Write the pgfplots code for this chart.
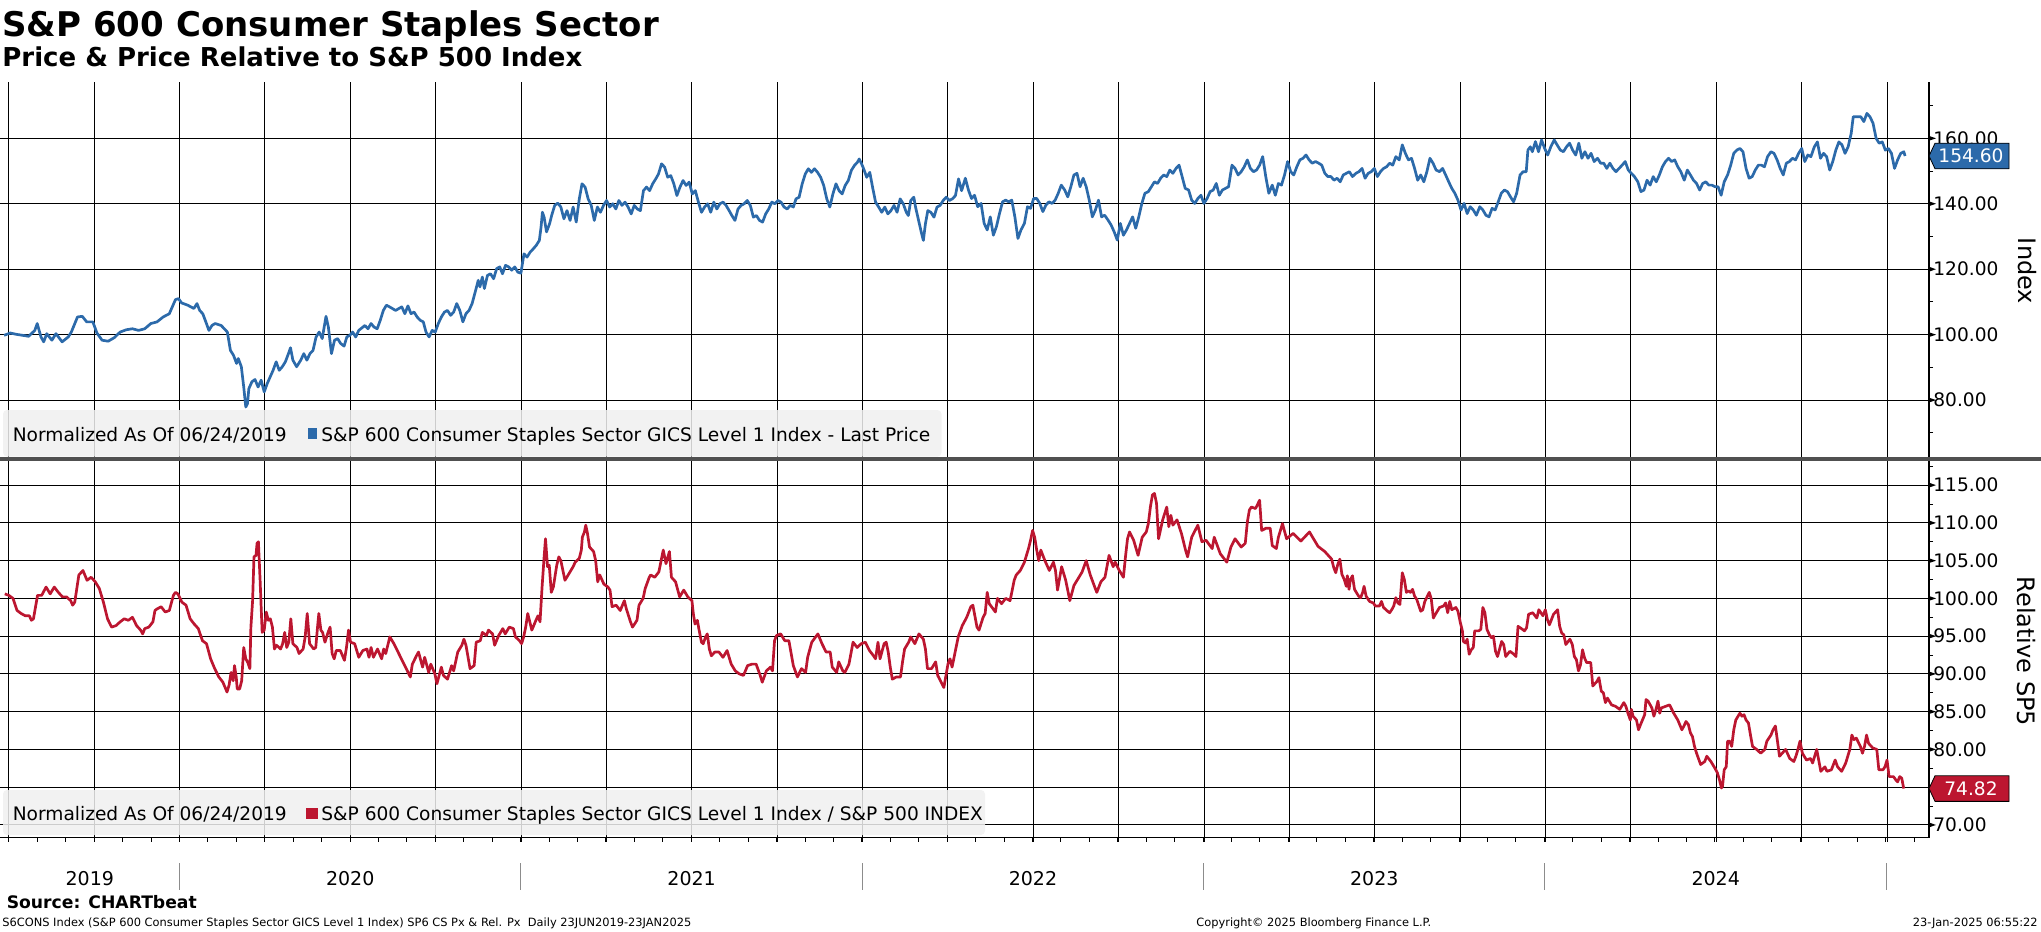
\documentclass[border=0pt]{standalone}
\usepackage{fontspec}
\setmainfont{DejaVu Sans}
\usepackage{pgfplots}
\pgfplotsset{compat=1.18}

\definecolor{serBlue}{RGB}{44,106,170}
\definecolor{serRed}{RGB}{188,22,48}
\definecolor{legbg}{RGB}{240,240,240}
\definecolor{sepgray}{RGB}{80,80,80}

\newcommand\ticfont{\fontsize{9.3bp}{11bp}\selectfont}
\newcommand\legfont{\fontsize{9.3bp}{11bp}\selectfont}

\pgfplotsset{
  panel/.style={
    scale only axis, width=964.5bp,
    xmin=2019.474, xmax=2025.125,
    axis y line*=right, axis x line*=bottom,
    xtick={2019.5,2019.75,...,2025}, xticklabels={},
    grid=major, major grid style={black, line width=0.5bp},
    tick align=outside, major tick length=2bp, minor tick length=2bp,
    tick style={black, line width=0.5bp},
    major y tick style={draw=none},
    y axis line style={black, line width=0.6bp},
    yticklabel style={font=\ticfont, anchor=west, inner sep=0pt},
    clip=false,
  },
}

\begin{document}
\begin{tikzpicture}
\useasboundingbox (0,0) rectangle (1020.5bp,-466bp);

% ---------- upper panel: price ----------
\begin{axis}[panel,
  at={(0bp,-40.85bp)}, anchor=north west, height=188.65bp,
  ymin=62.0, ymax=177.3,
  ytick={80,100,120,140,160},
  yticklabels={80.00,100.00,120.00,140.00,160.00},
  minor ytick={70,90,110,130,150,170},
  x axis line style={draw=none},
  major x tick style={draw=none},
]
\addplot[serBlue, line width=1.35bp, line join=round] coordinates {
(2019.486,99.8)(2019.504,100.5)(2019.522,100.1)(2019.540,99.8)(2019.558,99.5)
(2019.576,101.3)(2019.583,103.4)(2019.594,99.3)(2019.602,97.8)(2019.611,100.3)
(2019.626,98.3)(2019.638,100.3)(2019.656,97.8)(2019.674,99.3)(2019.683,100.8)
(2019.701,105.4)(2019.715,105.6)(2019.728,103.9)(2019.746,103.9)(2019.758,100.5)
(2019.773,98.3)(2019.791,98.0)(2019.809,99.1)(2019.826,100.8)(2019.844,101.5)
(2019.862,101.8)(2019.880,101.3)(2019.898,101.8)(2019.916,103.4)(2019.934,103.9)
(2019.952,105.4)(2019.970,106.4)(2019.988,110.7)(2019.997,111.0)(2020.006,109.7)
(2020.024,109.0)(2020.042,108.0)(2020.051,109.5)(2020.059,107.4)(2020.068,106.4)
(2020.077,103.9)(2020.086,101.3)(2020.095,102.8)(2020.104,103.4)(2020.122,102.8)
(2020.140,100.8)(2020.149,95.2)(2020.158,93.7)(2020.167,91.2)(2020.172,92.7)
(2020.181,90.2)(2020.188,84.0)(2020.194,77.9)(2020.199,78.9)(2020.203,83.5)
(2020.212,85.6)(2020.221,86.3)(2020.230,84.0)(2020.239,86.1)(2020.248,82.5)
(2020.257,85.1)(2020.274,89.1)(2020.283,91.7)(2020.292,89.1)(2020.301,90.2)
(2020.310,91.7)(2020.319,94.2)(2020.325,96.0)(2020.332,92.2)(2020.343,90.2)
(2020.355,92.2)(2020.364,94.2)(2020.373,92.2)(2020.382,94.2)(2020.391,95.2)
(2020.400,99.3)(2020.409,100.8)(2020.418,98.8)(2020.429,105.6)(2020.436,102.3)
(2020.445,94.2)(2020.454,98.3)(2020.463,98.8)(2020.472,97.3)(2020.482,96.5)
(2020.490,99.3)(2020.499,99.8)(2020.507,100.8)(2020.516,99.3)(2020.525,101.3)
(2020.543,102.8)(2020.552,101.8)(2020.561,103.4)(2020.570,102.3)(2020.579,101.8)
(2020.588,104.4)(2020.597,107.4)(2020.606,109.0)(2020.615,108.5)(2020.633,107.4)
(2020.651,108.5)(2020.660,106.4)(2020.669,108.8)(2020.678,106.4)(2020.687,106.9)
(2020.696,105.4)(2020.705,104.4)(2020.714,103.9)(2020.722,100.8)(2020.731,99.3)
(2020.740,101.3)(2020.749,100.8)(2020.758,103.4)(2020.767,105.4)(2020.776,106.9)
(2020.785,107.4)(2020.794,105.9)(2020.803,106.9)(2020.812,109.5)(2020.821,107.4)
(2020.830,103.9)(2020.839,106.4)(2020.848,107.4)(2020.857,109.5)(2020.866,113.0)
(2020.875,116.6)(2020.880,114.6)(2020.887,117.6)(2020.893,114.1)(2020.902,118.1)
(2020.911,118.6)(2020.920,117.1)(2020.929,120.2)(2020.938,120.7)(2020.946,118.6)
(2020.955,121.2)(2020.964,120.7)(2020.973,119.7)(2020.982,120.7)(2020.991,119.1)
(2021.000,118.8)(2021.009,124.7)(2021.018,123.7)(2021.027,125.2)(2021.036,126.2)
(2021.045,127.3)(2021.054,128.8)(2021.059,132.9)(2021.063,137.4)(2021.068,135.9)
(2021.075,131.4)(2021.084,133.9)(2021.090,136.4)(2021.099,139.5)(2021.108,140.2)
(2021.117,139.0)(2021.126,135.4)(2021.135,137.9)(2021.144,134.9)(2021.153,139.0)
(2021.162,134.4)(2021.171,141.5)(2021.179,146.1)(2021.188,145.1)(2021.197,141.5)
(2021.206,139.5)(2021.215,134.9)(2021.224,139.0)(2021.233,137.4)(2021.242,139.5)
(2021.251,141.0)(2021.260,139.0)(2021.269,140.0)(2021.278,138.4)(2021.287,141.0)
(2021.296,139.5)(2021.305,140.5)(2021.314,139.0)(2021.323,136.9)(2021.332,139.5)
(2021.341,138.4)(2021.350,137.9)(2021.359,144.0)(2021.368,145.1)(2021.377,144.0)
(2021.386,146.1)(2021.395,147.6)(2021.403,149.1)(2021.412,152.2)(2021.421,151.2)
(2021.430,148.1)(2021.439,148.6)(2021.448,146.1)(2021.457,142.5)(2021.466,145.1)
(2021.475,147.1)(2021.484,145.6)(2021.493,146.6)(2021.502,143.0)(2021.511,144.0)
(2021.520,140.5)(2021.529,137.4)(2021.538,139.0)(2021.547,140.0)(2021.556,137.4)
(2021.565,140.5)(2021.574,138.4)(2021.583,140.0)(2021.592,140.5)(2021.601,139.5)
(2021.610,137.9)(2021.618,136.4)(2021.627,134.9)(2021.636,138.4)(2021.645,139.5)
(2021.654,140.0)(2021.663,141.0)(2021.672,139.5)(2021.681,135.9)(2021.690,136.4)
(2021.699,134.9)(2021.708,134.4)(2021.717,136.9)(2021.726,138.4)(2021.735,140.5)
(2021.744,140.0)(2021.753,141.0)(2021.762,140.5)(2021.771,139.0)(2021.780,138.4)
(2021.789,139.5)(2021.798,139.0)(2021.806,141.5)(2021.815,142.0)(2021.824,146.1)
(2021.833,149.1)(2021.842,150.7)(2021.851,149.6)(2021.860,150.7)(2021.869,149.6)
(2021.878,148.1)(2021.887,145.6)(2021.896,141.5)(2021.905,139.0)(2021.914,143.0)
(2021.923,146.1)(2021.932,144.0)(2021.941,143.0)(2021.950,145.6)(2021.959,147.1)
(2021.968,150.2)(2021.977,151.7)(2021.986,152.7)(2021.991,153.7)(2021.998,152.2)
(2022.004,150.7)(2022.013,148.1)(2022.022,149.6)(2022.031,144.6)(2022.039,140.5)
(2022.048,139.0)(2022.057,137.4)(2022.066,139.0)(2022.075,136.9)(2022.084,137.9)
(2022.093,139.5)(2022.102,137.4)(2022.111,141.5)(2022.120,140.0)(2022.129,137.4)
(2022.135,136.4)(2022.142,141.0)(2022.151,142.0)(2022.156,139.0)(2022.165,134.9)
(2022.174,130.8)(2022.179,128.8)(2022.185,133.9)(2022.192,137.9)(2022.201,137.4)
(2022.210,135.9)(2022.219,139.0)(2022.228,139.5)(2022.237,141.0)(2022.246,142.0)
(2022.255,141.0)(2022.264,141.5)(2022.273,142.5)(2022.282,147.6)(2022.291,144.0)
(2022.302,147.8)(2022.311,144.2)(2022.320,141.6)(2022.329,142.6)(2022.338,139.1)
(2022.348,140.1)(2022.357,134.0)(2022.366,132.0)(2022.375,136.0)(2022.384,130.4)
(2022.393,133.0)(2022.402,137.0)(2022.411,140.6)(2022.420,141.1)(2022.429,140.6)
(2022.438,141.1)(2022.447,136.0)(2022.456,129.4)(2022.465,132.0)(2022.475,134.0)
(2022.484,139.1)(2022.493,138.6)(2022.502,141.6)(2022.511,141.6)(2022.520,140.1)
(2022.529,137.6)(2022.538,139.6)(2022.547,140.6)(2022.556,140.1)(2022.565,141.1)
(2022.574,143.2)(2022.583,145.7)(2022.593,144.2)(2022.602,142.1)(2022.611,145.2)
(2022.620,148.8)(2022.629,149.3)(2022.638,145.2)(2022.647,147.8)(2022.656,145.2)
(2022.665,141.1)(2022.674,136.0)(2022.683,138.1)(2022.692,141.1)(2022.701,136.0)
(2022.710,136.5)(2022.720,135.0)(2022.729,133.5)(2022.738,131.4)(2022.747,128.9)
(2022.756,134.0)(2022.765,130.4)(2022.774,132.0)(2022.783,134.0)(2022.792,136.0)
(2022.801,132.5)(2022.810,136.0)(2022.819,140.1)(2022.828,143.2)(2022.838,143.7)
(2022.847,145.2)(2022.856,146.7)(2022.865,146.2)(2022.874,147.8)(2022.883,148.8)
(2022.892,148.3)(2022.901,150.3)(2022.910,149.3)(2022.919,150.8)(2022.928,151.8)
(2022.937,148.3)(2022.946,144.7)(2022.956,144.2)(2022.965,141.1)(2022.974,140.1)
(2022.983,141.6)(2022.992,142.6)(2023.001,140.1)(2023.010,141.6)(2023.019,143.7)
(2023.028,144.2)(2023.037,146.2)(2023.046,142.6)(2023.055,144.2)(2023.064,144.7)
(2023.073,145.2)(2023.083,151.8)(2023.092,150.8)(2023.101,148.8)(2023.110,149.8)
(2023.119,151.3)(2023.128,153.4)(2023.137,150.8)(2023.146,149.8)(2023.155,150.3)
(2023.164,151.8)(2023.173,154.4)(2023.182,148.3)(2023.191,143.2)(2023.201,145.7)
(2023.210,142.6)(2023.219,146.2)(2023.228,145.7)(2023.237,148.8)(2023.246,152.9)
(2023.255,149.8)(2023.264,148.8)(2023.273,151.3)(2023.282,153.4)(2023.291,153.9)
(2023.300,154.9)(2023.309,153.4)(2023.318,152.4)(2023.328,152.9)(2023.337,152.4)
(2023.346,151.8)(2023.355,149.3)(2023.364,148.3)(2023.373,148.3)(2023.382,147.2)
(2023.391,147.8)(2023.400,146.7)(2023.409,148.8)(2023.418,149.3)(2023.427,149.8)
(2023.436,148.3)(2023.446,149.3)(2023.455,149.8)(2023.464,150.8)(2023.473,147.8)
(2023.482,149.3)(2023.491,149.8)(2023.500,150.8)(2023.509,148.3)(2023.518,149.8)
(2023.527,150.8)(2023.536,151.3)(2023.545,152.4)(2023.554,151.8)(2023.563,154.4)
(2023.573,153.4)(2023.582,158.0)(2023.591,155.4)(2023.600,153.4)(2023.609,153.9)
(2023.618,150.8)(2023.627,147.2)(2023.636,148.8)(2023.645,146.7)(2023.654,149.8)
(2023.663,153.9)(2023.672,152.4)(2023.681,150.3)(2023.691,149.8)(2023.700,150.8)
(2023.709,148.8)(2023.718,146.7)(2023.727,144.7)(2023.736,143.2)(2023.745,141.1)
(2023.754,138.1)(2023.763,140.1)(2023.772,137.0)(2023.781,139.1)(2023.790,138.1)
(2023.799,136.5)(2023.809,139.1)(2023.818,138.1)(2023.827,136.5)(2023.836,136.0)
(2023.845,138.6)(2023.854,138.1)(2023.863,140.6)(2023.872,143.2)(2023.881,144.2)
(2023.890,143.7)(2023.899,142.1)(2023.908,140.6)(2023.917,143.2)(2023.927,148.8)
(2023.936,149.8)(2023.945,149.8)(2023.950,156.4)(2023.957,157.4)(2023.963,155.9)
(2023.972,159.0)(2023.981,155.9)(2023.990,159.5)(2023.999,156.9)(2024.008,154.9)
(2024.017,157.4)(2024.027,159.5)(2024.036,157.9)(2024.045,156.4)(2024.054,155.9)
(2024.063,157.4)(2024.072,158.5)(2024.081,156.4)(2024.090,154.9)(2024.099,158.5)
(2024.108,153.9)(2024.117,155.9)(2024.126,153.9)(2024.135,155.4)(2024.144,152.9)
(2024.154,153.9)(2024.163,152.4)(2024.172,152.4)(2024.181,150.8)(2024.190,152.4)
(2024.199,150.8)(2024.208,149.8)(2024.217,150.8)(2024.226,151.8)(2024.235,152.9)
(2024.244,150.3)(2024.253,149.3)(2024.262,148.3)(2024.272,146.7)(2024.281,143.7)
(2024.290,144.2)(2024.299,147.2)(2024.308,145.7)(2024.317,148.3)(2024.326,146.7)
(2024.335,148.8)(2024.344,151.3)(2024.353,152.9)(2024.362,153.9)(2024.371,152.9)
(2024.380,153.4)(2024.389,151.3)(2024.398,149.8)(2024.408,147.2)(2024.417,150.3)
(2024.426,148.8)(2024.435,147.2)(2024.444,146.2)(2024.453,144.2)(2024.462,146.2)
(2024.471,146.7)(2024.480,145.7)(2024.489,145.7)(2024.498,145.2)(2024.507,145.2)
(2024.516,142.6)(2024.525,146.7)(2024.535,148.8)(2024.544,151.8)(2024.553,155.4)
(2024.562,156.4)(2024.571,156.9)(2024.580,155.9)(2024.589,150.8)(2024.598,147.8)
(2024.607,148.3)(2024.616,150.3)(2024.625,151.8)(2024.634,151.8)(2024.643,151.3)
(2024.652,154.4)(2024.662,155.9)(2024.671,155.4)(2024.680,153.4)(2024.689,150.8)
(2024.698,148.8)(2024.707,152.4)(2024.716,152.9)(2024.725,153.9)(2024.734,153.4)
(2024.743,155.4)(2024.752,156.9)(2024.761,152.9)(2024.770,154.9)(2024.779,154.4)
(2024.789,157.4)(2024.798,158.9)(2024.807,153.9)(2024.816,155.4)(2024.825,154.4)
(2024.834,150.3)(2024.843,152.9)(2024.852,156.4)(2024.861,158.9)(2024.870,158.0)
(2024.879,155.4)(2024.888,157.4)(2024.897,161.5)(2024.903,166.6)(2024.916,166.6)
(2024.925,166.6)(2024.934,165.1)(2024.943,167.6)(2024.952,166.6)(2024.961,164.6)
(2024.970,160.0)(2024.979,158.5)(2024.988,158.9)(2024.997,156.4)(2025.006,156.9)
(2025.015,155.4)(2025.024,150.8)(2025.033,153.4)(2025.042,155.4)(2025.051,155.9)
(2025.055,154.6)
};
\coordinate (tagU) at (axis cs:2025.125,154.6);
\pgfplotsinvokeforeach{80,100,120,140,160}{
  \fill[black] ([yshift=1.2bp]axis cs:2025.125,#1) -- ++(3.5bp,-1.2bp) -- ++(-3.5bp,-1.2bp) -- cycle;
}
\end{axis}

% ---------- lower panel: relative ----------
\begin{axis}[panel,
  at={(0bp,-229.5bp)}, anchor=north west, height=189.35bp,
  ymin=68.31, ymax=118.46,
  ytick={70,75,...,115},
  yticklabels={70.00,{},80.00,85.00,90.00,95.00,100.00,105.00,110.00,115.00},
  minor ytick={72.5,77.5,...,117.5},
  minor xtick={2019.5,2019.58333,...,2025.1},
  x axis line style={black, line width=0.6bp},
]
\addplot[serRed, line width=1.35bp, line join=round] coordinates {
(2019.488,100.6)(2019.500,100.4)(2019.512,100.0)(2019.524,98.4)(2019.536,98.0)
(2019.548,97.7)(2019.560,97.7)(2019.566,97.1)(2019.572,97.3)(2019.584,100.4)
(2019.596,100.4)(2019.609,101.5)(2019.621,100.6)(2019.633,101.5)(2019.645,100.8)
(2019.657,100.2)(2019.669,100.2)(2019.681,99.7)(2019.687,99.1)(2019.693,99.5)
(2019.705,103.1)(2019.717,103.7)(2019.729,102.4)(2019.741,102.8)(2019.753,102.2)
(2019.765,101.3)(2019.777,99.5)(2019.789,97.3)(2019.801,96.2)(2019.814,96.4)
(2019.826,96.9)(2019.838,97.3)(2019.850,97.1)(2019.862,97.5)(2019.874,96.4)
(2019.886,95.8)(2019.892,95.3)(2019.898,96.0)(2019.910,96.2)(2019.922,96.9)
(2019.928,98.4)(2019.934,98.6)(2019.946,98.9)(2019.958,98.2)(2019.970,98.4)
(2019.982,100.4)(2019.988,100.8)(2019.995,100.6)(2020.007,99.5)(2020.019,99.1)
(2020.031,97.3)(2020.043,96.6)(2020.055,96.0)(2020.067,94.4)(2020.079,94.0)
(2020.091,92.0)(2020.103,90.7)(2020.115,89.6)(2020.127,88.9)(2020.139,87.6)
(2020.145,88.5)(2020.151,90.2)(2020.157,89.1)(2020.161,91.1)(2020.166,89.6)
(2020.169,88.0)(2020.176,88.0)(2020.182,89.1)(2020.188,93.5)(2020.194,92.0)
(2020.200,91.5)(2020.206,90.7)(2020.209,96.2)(2020.214,99.7)(2020.218,105.5)
(2020.224,105.7)(2020.227,107.3)(2020.231,107.5)(2020.236,102.4)(2020.242,95.5)
(2020.248,95.8)(2020.254,98.2)(2020.260,97.1)(2020.266,97.3)(2020.272,96.2)
(2020.278,93.3)(2020.284,93.8)(2020.296,93.3)(2020.302,94.0)(2020.308,95.5)
(2020.314,93.5)(2020.320,94.2)(2020.326,97.3)(2020.332,94.0)(2020.344,93.5)
(2020.350,92.7)(2020.362,93.3)(2020.368,94.9)(2020.374,98.0)(2020.381,94.0)
(2020.393,93.3)(2020.399,93.5)(2020.405,96.6)(2020.408,98.0)(2020.414,95.8)
(2020.419,95.5)(2020.426,94.2)(2020.435,95.5)(2020.441,96.2)(2020.447,92.7)
(2020.453,92.0)(2020.459,93.1)(2020.471,93.1)(2020.483,91.8)(2020.489,93.5)
(2020.495,95.8)(2020.501,94.2)(2020.513,94.0)(2020.525,92.2)(2020.537,93.1)
(2020.549,93.3)(2020.555,92.2)(2020.561,93.5)(2020.568,92.2)(2020.580,93.3)
(2020.592,92.0)(2020.598,93.3)(2020.604,92.7)(2020.616,94.9)(2020.628,94.0)
(2020.640,92.9)(2020.652,91.8)(2020.664,90.7)(2020.676,89.6)(2020.682,91.3)
(2020.694,92.4)(2020.700,92.9)(2020.712,90.9)(2020.718,92.2)(2020.730,90.2)
(2020.736,91.3)(2020.748,90.0)(2020.754,88.7)(2020.767,90.9)(2020.773,89.8)
(2020.785,89.3)(2020.797,91.1)(2020.803,90.4)(2020.815,92.9)(2020.827,93.8)
(2020.833,94.6)(2020.839,93.8)(2020.851,90.7)(2020.863,91.1)(2020.869,94.2)
(2020.881,94.4)(2020.887,95.5)(2020.899,95.1)(2020.905,95.8)(2020.917,95.3)
(2020.923,93.8)(2020.935,95.1)(2020.947,96.0)(2020.954,95.3)(2020.966,96.2)
(2020.978,96.0)(2020.984,94.9)(2020.996,94.4)(2021.002,94.0)(2021.008,94.9)
(2021.014,96.2)(2021.020,98.0)(2021.032,95.8)(2021.044,97.1)(2021.050,97.7)
(2021.056,96.9)(2021.062,101.5)(2021.068,105.5)(2021.072,107.9)(2021.078,104.2)
(2021.083,104.4)(2021.089,100.8)(2021.095,101.5)(2021.105,104.4)(2021.111,105.5)
(2021.117,105.0)(2021.129,102.4)(2021.141,103.3)(2021.153,104.2)(2021.159,104.8)
(2021.171,105.3)(2021.177,106.4)(2021.180,108.1)(2021.186,108.8)(2021.190,109.7)
(2021.195,108.6)(2021.201,106.8)(2021.213,106.2)(2021.219,105.0)(2021.225,102.2)
(2021.231,103.1)(2021.243,101.9)(2021.255,101.5)(2021.261,101.1)(2021.267,98.9)
(2021.279,99.1)(2021.291,98.4)(2021.303,99.7)(2021.309,98.6)(2021.321,96.9)
(2021.327,96.2)(2021.340,97.1)(2021.346,99.1)(2021.358,100.0)(2021.364,101.3)
(2021.376,102.8)(2021.380,103.1)(2021.392,102.8)(2021.404,103.5)(2021.417,106.4)
(2021.425,104.6)(2021.435,106.2)(2021.441,102.8)(2021.453,102.2)(2021.465,100.2)
(2021.477,101.1)(2021.489,100.2)(2021.501,99.7)(2021.505,98.0)(2021.510,96.6)
(2021.517,97.1)(2021.522,95.8)(2021.529,94.2)(2021.534,94.0)(2021.541,94.9)
(2021.546,95.3)(2021.552,93.3)(2021.558,92.4)(2021.568,92.9)(2021.580,92.9)
(2021.592,92.2)(2021.604,93.1)(2021.616,91.3)(2021.628,90.4)(2021.640,90.0)
(2021.652,89.8)(2021.664,91.1)(2021.677,91.3)(2021.689,91.3)(2021.701,89.8)
(2021.707,88.9)(2021.719,90.4)(2021.731,90.9)(2021.737,90.4)(2021.743,94.4)
(2021.749,95.1)(2021.761,95.3)(2021.773,94.4)(2021.785,94.4)(2021.798,91.1)
(2021.810,89.6)(2021.822,90.7)(2021.834,90.2)(2021.840,92.2)(2021.852,94.2)
(2021.870,95.3)(2021.882,94.0)(2021.894,92.9)(2021.906,92.9)(2021.912,90.9)
(2021.925,90.2)(2021.931,91.6)(2021.943,90.4)(2021.949,90.2)(2021.961,91.3)
(2021.973,94.2)(2021.985,93.5)(2021.997,94.0)(2022.009,94.2)(2022.021,93.1)
(2022.033,92.4)(2022.039,92.0)(2022.046,94.2)(2022.052,92.0)(2022.064,94.0)
(2022.070,94.2)(2022.076,92.9)(2022.082,90.9)(2022.088,89.3)(2022.100,89.6)
(2022.112,89.6)(2022.118,91.6)(2022.124,93.3)(2022.136,94.2)(2022.142,94.9)
(2022.154,94.0)(2022.166,95.3)(2022.179,94.6)(2022.185,93.3)(2022.191,90.7)
(2022.203,90.7)(2022.215,91.6)(2022.221,89.8)(2022.239,88.2)(2022.251,91.3)
(2022.257,92.0)(2022.263,90.9)(2022.269,92.2)(2022.281,94.9)(2022.293,96.4)
(2022.306,97.5)(2022.318,98.9)(2022.324,99.1)(2022.336,96.2)(2022.342,95.8)
(2022.354,97.5)(2022.360,98.0)(2022.366,100.8)(2022.372,99.3)(2022.390,98.2)
(2022.396,100.0)(2022.408,99.3)(2022.420,100.0)(2022.433,99.7)(2022.445,102.4)
(2022.451,103.1)(2022.463,103.7)(2022.475,104.8)(2022.487,106.6)(2022.493,107.7)
(2022.499,109.0)(2022.505,108.1)(2022.511,106.4)(2022.517,105.0)(2022.523,106.4)
(2022.535,105.0)(2022.548,103.7)(2022.560,104.8)(2022.566,103.7)(2022.572,101.1)
(2022.584,104.2)(2022.596,102.4)(2022.608,99.7)(2022.620,101.7)(2022.632,102.6)
(2022.644,103.5)(2022.656,105.0)(2022.668,103.1)(2022.681,101.5)(2022.687,100.8)
(2022.699,102.2)(2022.711,102.8)(2022.723,105.7)(2022.735,104.2)(2022.741,104.8)
(2022.753,103.7)(2022.765,102.8)(2022.771,105.5)(2022.777,107.9)(2022.783,108.8)
(2022.795,107.7)(2022.808,105.7)(2022.820,108.1)(2022.832,108.8)(2022.838,109.9)
(2022.844,112.1)(2022.850,113.7)(2022.856,113.9)(2022.862,112.6)(2022.868,107.9)
(2022.880,110.4)(2022.892,112.1)(2022.898,109.5)(2022.904,111.0)(2022.910,109.7)
(2022.922,110.4)(2022.935,108.6)(2022.947,106.4)(2022.953,105.5)(2022.965,108.1)
(2022.983,109.7)(2022.995,107.5)(2023.007,107.7)(2023.025,106.6)(2023.031,108.1)
(2023.049,105.9)(2023.068,104.8)(2023.080,106.8)(2023.092,107.9)(2023.110,106.8)
(2023.122,107.3)(2023.128,110.1)(2023.134,111.7)(2023.140,112.1)(2023.152,111.9)
(2023.164,113.0)(2023.170,109.0)(2023.183,109.3)(2023.195,109.3)(2023.201,107.0)
(2023.213,106.6)(2023.219,108.1)(2023.231,109.9)(2023.243,107.9)(2023.262,108.6)
(2023.285,107.6)(2023.310,108.8)(2023.335,106.9)(2023.355,106.2)
(2023.375,105.2)(2023.381,104.1)(2023.387,103.4)(2023.393,104.5)(2023.399,105.2)
(2023.405,103.2)(2023.412,102.5)(2023.418,101.6)(2023.421,103.0)(2023.426,101.2)
(2023.430,102.5)(2023.436,103.0)(2023.442,101.2)(2023.454,100.3)(2023.460,100.1)
(2023.466,100.8)(2023.470,101.6)(2023.476,100.3)(2023.486,99.6)(2023.497,99.4)
(2023.503,99.0)(2023.515,99.0)(2023.521,99.6)(2023.527,98.8)(2023.539,98.3)
(2023.545,98.1)(2023.551,98.5)(2023.557,99.0)(2023.563,100.1)(2023.569,99.4)
(2023.575,99.2)(2023.582,103.4)(2023.588,102.5)(2023.594,100.8)(2023.600,101.0)
(2023.606,100.8)(2023.612,101.2)(2023.618,100.3)(2023.624,99.9)(2023.636,98.3)
(2023.642,98.5)(2023.648,99.6)(2023.661,100.8)(2023.667,99.9)(2023.673,97.4)
(2023.679,97.9)(2023.691,98.8)(2023.703,99.0)(2023.709,99.4)(2023.715,98.1)
(2023.721,99.6)(2023.727,98.5)(2023.739,98.8)(2023.745,98.3)(2023.752,96.8)
(2023.758,95.7)(2023.761,94.3)(2023.767,94.1)(2023.772,94.6)(2023.778,92.6)
(2023.784,93.2)(2023.790,93.5)(2023.794,95.7)(2023.806,95.7)(2023.812,95.9)
(2023.818,98.8)(2023.824,98.1)(2023.830,95.9)(2023.837,95.2)(2023.843,94.8)
(2023.849,95.0)(2023.855,93.0)(2023.861,92.3)(2023.873,94.3)(2023.879,93.9)
(2023.885,92.3)(2023.897,93.0)(2023.909,92.6)(2023.915,92.3)(2023.921,96.3)
(2023.934,95.9)(2023.940,95.7)(2023.946,96.1)(2023.952,97.9)(2023.964,98.1)
(2023.976,97.4)(2023.982,98.5)(2023.994,97.7)(2024.001,98.5)(2024.007,97.2)
(2024.013,96.5)(2024.025,97.9)(2024.037,98.5)(2024.043,96.3)(2024.049,95.4)
(2024.055,95.2)(2024.061,93.9)(2024.073,94.6)(2024.080,93.9)(2024.086,92.3)
(2024.092,91.9)(2024.098,90.4)(2024.104,91.2)(2024.110,93.2)(2024.116,92.1)
(2024.122,91.5)(2024.134,91.5)(2024.140,88.4)(2024.152,89.0)(2024.158,89.5)
(2024.165,87.7)(2024.171,87.5)(2024.177,86.2)(2024.183,86.8)(2024.195,85.9)
(2024.207,85.7)(2024.219,85.3)(2024.231,86.2)(2024.237,85.7)(2024.243,84.8)
(2024.250,83.9)(2024.253,85.3)(2024.258,84.4)(2024.268,83.9)(2024.274,82.6)
(2024.280,83.3)(2024.292,84.6)(2024.296,86.6)(2024.302,86.4)(2024.313,85.5)
(2024.319,84.4)(2024.325,85.3)(2024.331,86.4)(2024.336,84.8)(2024.341,85.5)
(2024.353,85.7)(2024.365,85.9)(2024.377,84.8)(2024.389,83.9)(2024.401,82.6)
(2024.407,83.1)(2024.413,83.7)(2024.420,83.3)(2024.426,82.2)(2024.432,81.7)
(2024.438,80.4)(2024.444,79.5)(2024.456,78.0)(2024.468,78.4)(2024.474,79.1)
(2024.486,78.4)(2024.498,77.5)(2024.505,76.9)(2024.511,76.0)(2024.517,74.9)
(2024.520,75.1)(2024.525,77.3)(2024.531,77.7)(2024.535,81.1)(2024.541,81.1)
(2024.547,80.4)(2024.553,82.6)(2024.559,83.9)(2024.571,84.8)(2024.577,84.4)
(2024.583,84.6)(2024.589,83.9)(2024.596,83.5)(2024.602,81.9)(2024.608,80.4)
(2024.620,80.0)(2024.632,79.5)(2024.644,80.0)(2024.650,81.1)(2024.662,81.9)
(2024.668,82.6)(2024.675,83.1)(2024.681,81.1)(2024.687,79.1)(2024.699,79.7)
(2024.705,80.0)(2024.717,78.8)(2024.729,78.4)(2024.735,79.1)(2024.741,80.0)
(2024.747,81.1)(2024.754,79.5)(2024.766,78.6)(2024.778,78.8)(2024.784,78.2)
(2024.790,79.1)(2024.796,80.0)(2024.808,77.1)(2024.820,77.7)(2024.826,77.1)
(2024.839,77.3)(2024.850,78.6)(2024.857,77.7)(2024.869,77.1)(2024.881,78.2)
(2024.893,80.0)(2024.899,81.9)(2024.905,81.3)(2024.912,81.5)(2024.924,80.4)
(2024.930,79.5)(2024.936,80.4)(2024.942,81.9)(2024.948,80.8)(2024.960,80.2)
(2024.972,80.0)(2024.978,77.3)(2024.990,77.3)(2024.996,77.7)(2025.002,78.6)
(2025.008,76.4)(2025.021,76.4)(2025.027,76.0)(2025.033,75.7)(2025.039,76.4)
(2025.045,76.2)(2025.051,74.82)
};
\coordinate (tagL) at (axis cs:2025.125,74.82);
\pgfplotsinvokeforeach{70,75,80,85,90,95,100,105,110,115}{
  \fill[black] ([yshift=1.2bp]axis cs:2025.125,#1) -- ++(3.5bp,-1.2bp) -- ++(-3.5bp,-1.2bp) -- cycle;
}
% year separators and labels
\pgfplotsinvokeforeach{2020,2021,2022,2023,2024,2025}{
  \draw[black!45, line width=0.5bp] ([yshift=-12.65bp]axis cs:#1,68.31) -- ([yshift=-26.15bp]axis cs:#1,68.31);
}
\path (axis cs:2019.737,68.31) node[anchor=base, yshift=-23.65bp, font=\fontsize{9.5bp}{11bp}\selectfont] {2019};
\pgfplotsinvokeforeach{2020,2021,2022,2023,2024}{
  \path (axis cs:#1.5,68.31) node[anchor=base, yshift=-23.65bp, font=\fontsize{9.5bp}{11bp}\selectfont] {#1};
}
\end{axis}

% separator between panels
\draw[sepgray, line width=2bp] (0bp,-229.5bp) -- (1020.5bp,-229.5bp);

% legends
\fill[legbg, opacity=0.85, rounded corners=2bp] (1.5bp,-205bp) rectangle (470.75bp,-228.3bp);
\node[anchor=base west, inner sep=0pt] at (6.2bp,-220.5bp) {\legfont Normalized As Of 06/24/2019};
\fill[serBlue] (153.75bp,-214bp) rectangle (158.7bp,-219.5bp);
\node[anchor=base west, inner sep=0pt] at (160.5bp,-220.5bp) {\legfont S\&P 600 Consumer Staples Sector GICS Level 1 Index - Last Price};

\fill[legbg, opacity=0.85, rounded corners=2bp] (1.5bp,-395bp) rectangle (492.5bp,-417.5bp);
\node[anchor=base west, inner sep=0pt] at (6.2bp,-410.35bp) {\legfont Normalized As Of 06/24/2019};
\fill[serRed] (153bp,-404bp) rectangle (158.8bp,-409.5bp);
\node[anchor=base west, inner sep=0pt] at (160.5bp,-410.35bp) {\legfont S\&P 600 Consumer Staples Sector GICS Level 1 Index / S\&P 500 INDEX};

% last value tags
\draw[fill=serBlue, draw=black, line width=0.4bp] (tagU) -- ++(3bp,6.4bp) -- ++(37bp,0bp) -- ++(0bp,-12.8bp) -- ++(-37bp,0bp) -- cycle;
\node[white, inner sep=0pt, font=\ticfont] at ([xshift=21bp]tagU) {154.60};
\draw[fill=serRed, draw=black, line width=0.4bp] (tagL) -- ++(3bp,6.4bp) -- ++(37bp,0bp) -- ++(0bp,-12.8bp) -- ++(-37bp,0bp) -- cycle;
\node[white, inner sep=0pt, font=\ticfont] at ([xshift=21bp]tagL) {74.82};

% axis titles
\node[rotate=-90, inner sep=0pt, font=\fontsize{12bp}{14bp}\selectfont] at (1013.5bp,-135.5bp) {Index};
\node[rotate=-90, inner sep=0pt, font=\fontsize{12bp}{14bp}\selectfont] at (1013bp,-325.75bp) {Relative SP5};

% titles
\node[anchor=base west, inner sep=0pt, font=\fontsize{17bp}{20bp}\selectfont\bfseries] at (1bp,-18.35bp) {S\&P 600 Consumer Staples Sector};
\node[anchor=base west, inner sep=0pt, font=\fontsize{13bp}{15bp}\selectfont\bfseries] at (1bp,-33.35bp) {Price \& Price Relative to S\&P 500 Index};

% footer
\node[anchor=base west, inner sep=0pt, font=\fontsize{8.6bp}{10bp}\selectfont\bfseries] at (3.2bp,-454bp) {Source: CHARTbeat};
\node[anchor=base west, inner sep=0pt, font=\fontsize{5.7bp}{7bp}\selectfont] at (1bp,-463bp) {S6CONS Index (S\&P 600 Consumer Staples Sector GICS Level 1 Index) SP6 CS Px \& Rel. Px\ \ Daily 23JUN2019-23JAN2025};
\node[anchor=base west, inner sep=0pt, font=\fontsize{5.7bp}{7bp}\selectfont] at (598bp,-463bp) {Copyright© 2025 Bloomberg Finance L.P.};
\node[anchor=base east, inner sep=0pt, font=\fontsize{5.7bp}{7bp}\selectfont] at (1019bp,-463bp) {23-Jan-2025 06:55:22};
\end{tikzpicture}
\end{document}
